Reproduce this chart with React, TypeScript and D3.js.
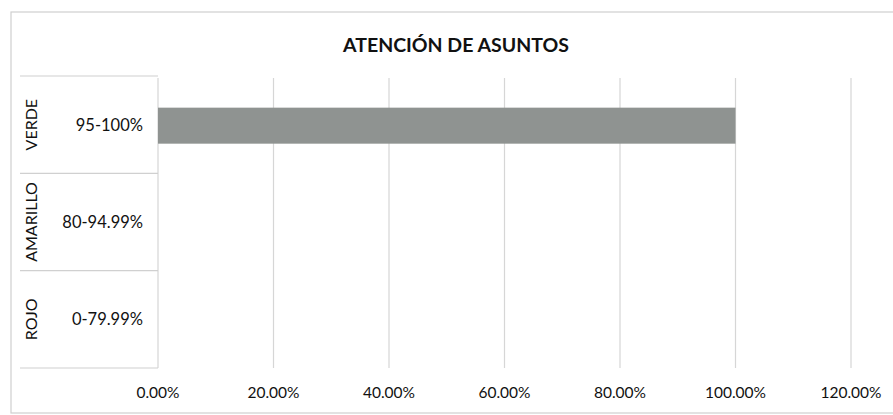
import React, { useEffect, useRef } from 'react';
import * as d3 from 'd3';

const title = 'ATENCIÓN DE ASUNTOS';
const groups = ['VERDE', 'AMARILLO', 'ROJO'];
const ranges = ['95-100%', '80-94.99%', '0-79.99%'];
const values = [1.0, 0, 0];
const xTicks = [0, 0.2, 0.4, 0.6, 0.8, 1.0, 1.2];

const W = 893;
const H = 415;

const App: React.FC = () => {
  const svgRef = useRef<SVGSVGElement>(null);

  useEffect(() => {
    if (!svgRef.current) return;
    const svg = d3.select(svgRef.current);
    svg.selectAll('*').remove();

    const font = 'Lato, "Open Sans", sans-serif';
    const left = 158, right = 851, top = 76, bottom = 368;
    const labelLeft = 20;

    // chart frame
    svg.append('rect')
      .attr('x', 11).attr('y', 12)
      .attr('width', W + 10).attr('height', 401)
      .attr('fill', '#fff')
      .attr('stroke', '#cfcfcf')
      .attr('stroke-width', 1.2);

    svg.append('text')
      .attr('x', 456).attr('y', 52)
      .attr('text-anchor', 'middle')
      .attr('font-family', font)
      .attr('font-weight', 'bold')
      .attr('font-size', 19.5)
      .attr('fill', '#111')
      .text(title);

    const x = d3.scaleLinear().domain([0, 1.2]).range([left, right]);
    const y = d3.scaleBand<number>()
      .domain(d3.range(groups.length))
      .range([top, bottom])
      .paddingInner(0)
      .paddingOuter(0);

    // gridlines
    svg.append('g')
      .selectAll('line')
      .data(xTicks)
      .join('line')
      .attr('x1', d => x(d)).attr('x2', d => x(d))
      .attr('y1', top + 2).attr('y2', bottom)
      .attr('stroke', '#d6d6d6')
      .attr('stroke-width', 1.2);

    // category separators across the label area
    const seps = d3.range(groups.length + 1).map(i =>
      i < groups.length ? (y(i) as number) : bottom);
    svg.append('g')
      .selectAll('line')
      .data(seps)
      .join('line')
      .attr('x1', labelLeft).attr('x2', left)
      .attr('y1', d => d).attr('y2', d => d)
      .attr('stroke', '#d0d0d0')
      .attr('stroke-width', 1.2);

    // bars
    const barH = y.bandwidth() * 0.37;
    svg.append('g')
      .selectAll('rect')
      .data(values)
      .join('rect')
      .attr('x', x(0))
      .attr('y', (_, i) => (y(i) as number) + y.bandwidth() / 2 - barH / 2 + 1)
      .attr('width', d => x(d) - x(0))
      .attr('height', barH)
      .attr('fill', '#8f9391');

    // outer (rotated) labels
    svg.append('g')
      .selectAll('text')
      .data(groups)
      .join('text')
      .attr('transform', (_, i) =>
        `translate(37,${(y(i) as number) + y.bandwidth() / 2}) rotate(-90)`)
      .attr('text-anchor', 'middle')
      .attr('font-family', font)
      .attr('font-size', 16)
      .attr('fill', '#111')
      .text(d => d);

    // inner labels
    svg.append('g')
      .selectAll('text')
      .data(ranges)
      .join('text')
      .attr('x', 143)
      .attr('y', (_, i) => (y(i) as number) + y.bandwidth() / 2 + 6)
      .attr('text-anchor', 'end')
      .attr('font-family', font)
      .attr('font-size', 16.5)
      .attr('fill', '#111')
      .text(d => d);

    // x axis labels
    svg.append('g')
      .selectAll('text')
      .data(xTicks)
      .join('text')
      .attr('x', d => x(d))
      .attr('y', 398)
      .attr('text-anchor', 'middle')
      .attr('font-family', font)
      .attr('font-size', 15.5)
      .attr('fill', '#111')
      .text(d => d3.format('.2%')(d));
  }, []);

  return (
    <svg ref={svgRef} width={W} height={H}
      style={{ position: 'absolute', left: 0, top: 0, background: '#fff' }} />
  );
};

export default App;
